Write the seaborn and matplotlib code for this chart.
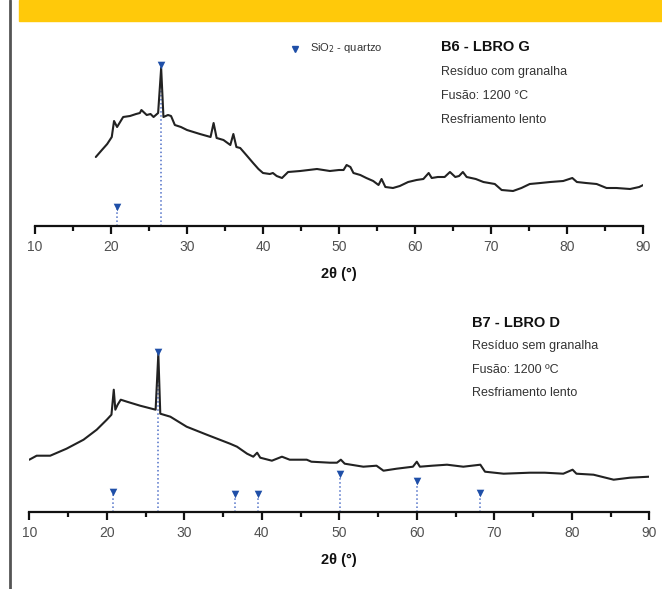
import numpy as np
import pandas as pd
import matplotlib
matplotlib.use("Agg")
import matplotlib.pyplot as plt
from matplotlib.patches import Rectangle
from matplotlib.lines import Line2D
import seaborn as sns

# B6 - LBRO G (com granalha): 2theta and intensity (arbitrary units)
b6_theta = [18.0, 18.8, 19.5, 20.1, 20.4, 20.8, 21.6, 22.5, 23.3, 23.8, 24.0, 24.7, 25.2, 25.6,
            26.2, 26.6, 26.9, 27.5, 27.9, 28.4, 29.2, 30.0, 31.7, 33.1, 33.5, 33.9, 34.8, 35.7,
            36.1, 36.5, 37.0, 37.8, 38.7, 39.4, 40.0, 40.9, 41.3, 41.8, 42.5, 43.3, 44.9, 46.0,
            47.1, 48.8, 50.0, 50.6, 51.0, 51.5, 51.9, 52.8, 53.6, 54.5, 55.2, 55.6, 56.1, 57.1,
            58.0, 59.1, 60.2, 61.1, 61.8, 62.2, 63.0, 63.9, 64.6, 65.3, 65.8, 66.3, 66.8, 68.0,
            69.0, 70.5, 71.4, 72.9, 74.0, 75.1, 76.5, 77.8, 79.5, 80.7, 81.3, 82.5, 83.9, 85.2,
            86.5, 88.3, 89.5, 90.3]
b6_int = [69, 76, 82, 89, 105, 99, 109, 110, 112, 113, 116, 111, 112, 109,
          113, 158, 109, 111, 110, 101, 99, 96, 92, 89, 103, 88, 86, 81,
          92, 79, 78, 71, 63, 57, 53, 52, 53, 50, 48, 54, 55, 56,
          57, 55, 56, 56, 61, 59, 53, 51, 48, 45, 41, 47, 39, 38,
          40, 44, 46, 47, 53, 48, 49, 49, 54, 49, 50, 54, 49, 47,
          44, 42, 36, 35, 38, 42, 43, 44, 45, 48, 44, 43, 42, 38,
          38, 37, 39, 42]

# B7 - LBRO D (sem granalha)
b7_theta = [10.0, 10.95, 12.7, 14.8, 17.0, 18.7, 20.0, 20.6, 20.9, 21.1, 21.4, 21.8, 22.6, 24.3,
            26.3, 26.65, 26.9, 28.2, 30.3, 32.9, 35.9, 36.8, 38.1, 38.9, 39.4, 39.8, 41.3, 42.6,
            43.6, 45.8, 46.4, 48.8, 49.7, 50.2, 50.7, 53.1, 54.8, 55.7, 57.4, 59.5, 60.0, 60.4,
            62.0, 63.9, 66.0, 68.2, 68.8, 71.2, 74.6, 76.5, 78.9, 80.1, 80.6, 82.8, 85.4, 87.5,
            90.0]
b7_int = [52, 56, 56, 63, 72, 82, 92, 97, 122, 102, 107, 112, 110, 106,
          102, 158, 98, 95, 85, 77, 68, 65, 58, 55, 59, 54, 51, 55,
          52, 52, 50, 49, 49, 52, 48, 45, 46, 41, 43, 45, 50, 45,
          46, 47, 45, 47, 40, 38, 39, 39, 38, 42, 38, 37, 32, 34,
          35]

# SiO2 - quartzo reference peaks
b6_ref_theta = [20.85, 26.6]
b6_ref_int = [19, 161]
b7_ref_theta = [20.85, 26.65, 36.55, 39.45, 50.1, 60.0, 68.2]
b7_ref_int = [20, 160, 18, 18, 38, 31, 19]

sns.set_style("white")
plt.rcParams['font.family'] = ['Liberation Sans', 'DejaVu Sans']

W, H = 662, 589
fig = plt.figure(figsize=(W / 100, H / 100), dpi=100)

# yellow header band and the left rule
fig.patches.append(Rectangle((19 / W, 1 - 21 / H), 1 - 19 / W, 21 / H,
                             transform=fig.transFigure, color='#FFC90A', zorder=0))
fig.lines.append(Line2D([9.5 / W, 9.5 / W], [0, 1], transform=fig.transFigure,
                        color='#555555', lw=2))

blue = '#1F4FA8'
dotc = '#5070C8'


def style_axis(ax, ytop):
    ax.set_xlim(10, 90)
    ax.set_ylim(0, ytop)
    for s in ['left', 'right', 'top']:
        ax.spines[s].set_visible(False)
    ax.spines['bottom'].set_linewidth(1.6)
    ax.spines['bottom'].set_color('#111111')
    ax.set_yticks([])
    ax.set_xticks(np.arange(10, 91, 10))
    ax.set_xticks(np.arange(15, 90, 10), minor=True)
    ax.tick_params(axis='x', which='major', direction='out', length=6, width=1.6,
                   color='#111111', labelsize=10, labelcolor='#505050', pad=4, bottom=True)
    ax.tick_params(axis='x', which='minor', direction='out', length=3.5, width=1.6,
                   color='#111111', bottom=True)
    ax.set_xlabel('2θ (°)', fontsize=10.5, fontweight='bold', color='#111111', labelpad=9.5)
    ax.set_ylabel('')
    ax.patch.set_alpha(0)


def draw_refs(ax, th, it):
    for t, v in zip(th, it):
        ax.plot([t, t], [0, v], ls=':', color=dotc, lw=1.1, zorder=1)
    ax.scatter(th, it, marker='v', s=30, color=blue, zorder=3, linewidths=0)


# top panel
ax1 = fig.add_axes([35 / W, 1 - 226 / H, 608 / W, 196 / H])
df6 = pd.DataFrame({'theta': b6_theta, 'I': b6_int})
sns.lineplot(data=df6, x='theta', y='I', ax=ax1, color='#222222', lw=1.5, sort=False, zorder=2)
draw_refs(ax1, b6_ref_theta, b6_ref_int)
style_axis(ax1, 196)

# bottom panel
ax2 = fig.add_axes([29.3 / W, 1 - 511.7 / H, 620 / W, 191.7 / H])
df7 = pd.DataFrame({'theta': b7_theta, 'I': b7_int})
sns.lineplot(data=df7, x='theta', y='I', ax=ax2, color='#222222', lw=1.5, sort=False, zorder=2)
draw_refs(ax2, b7_ref_theta, b7_ref_int)
style_axis(ax2, 191.7)

# legend and annotations (figure pixel coordinates)
def ftxt(x, y, s, **kw):
    fig.text(x / W, 1 - y / H, s, va='center', ha='left', **kw)

fig.lines.append(Line2D([295 / W], [1 - 49 / H], transform=fig.transFigure, marker='v',
                        markersize=5, color=blue, ls='none'))
ftxt(310, 48, 'SiO$_2$ - quartzo', fontsize=8, color='#333333')

ftxt(441, 47, 'B6 - LBRO G', fontsize=10.5, fontweight='bold', color='#111111')
ftxt(441, 72, 'Resíduo com granalha', fontsize=9, color='#333333')
ftxt(441, 96, 'Fusão: 1200 °C', fontsize=9, color='#333333')
ftxt(441, 120, 'Resfriamento lento', fontsize=9, color='#333333')

ftxt(472, 323, 'B7 - LBRO D', fontsize=10.5, fontweight='bold', color='#111111')
ftxt(472, 346, 'Resíduo sem granalha', fontsize=9, color='#333333')
ftxt(472, 370, 'Fusão: 1200 ºC', fontsize=9, color='#333333')
ftxt(472, 393, 'Resfriamento lento', fontsize=9, color='#333333')

fig.savefig('out.png', dpi=100)
plt.close()
